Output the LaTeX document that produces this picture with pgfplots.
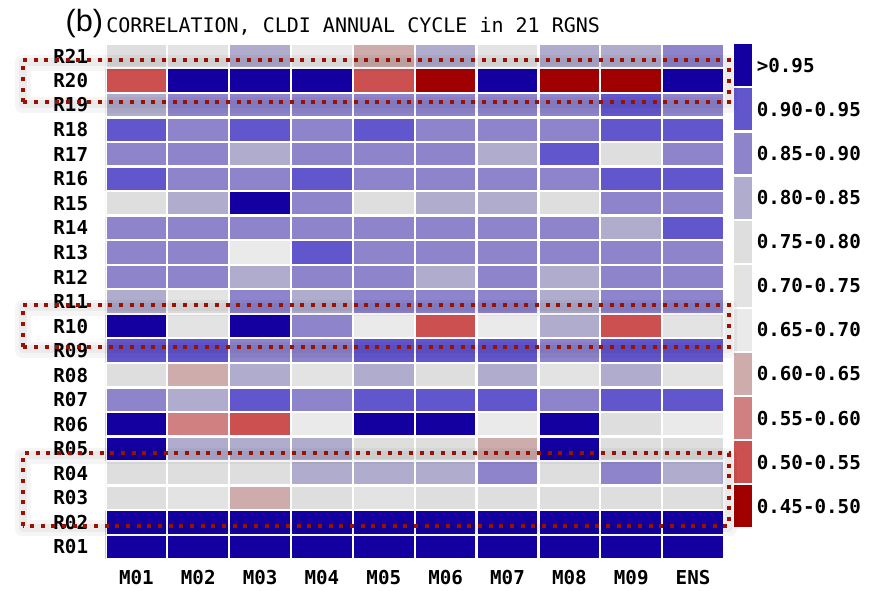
\documentclass[border=0pt]{standalone}
\usepackage{fontspec}
\usepackage{pgfplots}
\pgfplotsset{compat=1.18}
\setmainfont{Liberation Sans}
\setmonofont{DejaVu Sans Mono}
\newcommand{\labfont}{\ttfamily\bfseries\fontsize{14.4}{16}\selectfont}

% bins, lowest first
\definecolor{cb1}{RGB}{160,0,0}
\definecolor{cb2}{RGB}{204,80,80}
\definecolor{cb3}{RGB}{208,128,128}
\definecolor{cb4}{RGB}{206,172,172}
\definecolor{cb5}{RGB}{234,234,234}
\definecolor{cb6}{RGB}{227,227,227}
\definecolor{cb7}{RGB}{222,222,222}
\definecolor{cb8}{RGB}{176,172,206}
\definecolor{cb9}{RGB}{142,132,204}
\definecolor{cb10}{RGB}{98,86,204}
\definecolor{cb11}{RGB}{20,0,160}
\definecolor{boxred}{RGB}{155,16,0}

\begin{document}
\begin{tikzpicture}
\useasboundingbox (0,0) rectangle (660pt,442.5pt);

\begin{axis}[
  at={(79.1pt,23.1pt)}, anchor=south west,
  scale only axis, width=463.9pt, height=386.6pt,
  xmin=-0.5, xmax=9.5, ymin=0.5, ymax=21.5,
  axis line style={draw=none}, major tick length=0pt,
  xtick={0,...,9},
  xticklabels={M01,M02,M03,M04,M05,M06,M07,M08,M09,ENS},
  ytick={1,...,21},
  yticklabels={R01,R02,R03,R04,R05,R06,R07,R08,R09,R10,R11,R12,R13,R14,R15,R16,R17,R18,R19,R20,R21},
  ticklabel style={font=\labfont},
  yticklabel style={anchor=east, xshift=-9.5pt},
  xticklabel style={yshift=-5pt},
  colormap={corr}{color=(cb1) color=(cb2) color=(cb3) color=(cb4) color=(cb5) color=(cb6)
    color=(cb7) color=(cb8) color=(cb9) color=(cb10) color=(cb11)},
  colormap access=piecewise constant,
  point meta min=0.45, point meta max=1.0,
]
\addplot[matrix plot*, mesh/cols=10, mesh/ordering=x varies, point meta=explicit,
  draw=white, line width=1.7pt] coordinates {
(0,1)[0.97] (1,1)[0.97] (2,1)[0.97] (3,1)[0.97] (4,1)[0.97] (5,1)[0.97] (6,1)[0.97] (7,1)[0.97] (8,1)[0.97] (9,1)[0.97]
(0,2)[0.97] (1,2)[0.97] (2,2)[0.97] (3,2)[0.97] (4,2)[0.97] (5,2)[0.97] (6,2)[0.97] (7,2)[0.97] (8,2)[0.97] (9,2)[0.97]
(0,3)[0.78] (1,3)[0.73] (2,3)[0.62] (3,3)[0.78] (4,3)[0.73] (5,3)[0.78] (6,3)[0.78] (7,3)[0.78] (8,3)[0.78] (9,3)[0.78]
(0,4)[0.78] (1,4)[0.78] (2,4)[0.78] (3,4)[0.83] (4,4)[0.83] (5,4)[0.83] (6,4)[0.87] (7,4)[0.78] (8,4)[0.87] (9,4)[0.83]
(0,5)[0.97] (1,5)[0.83] (2,5)[0.83] (3,5)[0.83] (4,5)[0.78] (5,5)[0.78] (6,5)[0.62] (7,5)[0.97] (8,5)[0.78] (9,5)[0.78]
(0,6)[0.97] (1,6)[0.58] (2,6)[0.52] (3,6)[0.68] (4,6)[0.97] (5,6)[0.97] (6,6)[0.68] (7,6)[0.97] (8,6)[0.78] (9,6)[0.68]
(0,7)[0.87] (1,7)[0.83] (2,7)[0.93] (3,7)[0.87] (4,7)[0.93] (5,7)[0.93] (6,7)[0.93] (7,7)[0.87] (8,7)[0.93] (9,7)[0.93]
(0,8)[0.78] (1,8)[0.62] (2,8)[0.83] (3,8)[0.73] (4,8)[0.83] (5,8)[0.78] (6,8)[0.83] (7,8)[0.73] (8,8)[0.83] (9,8)[0.73]
(0,9)[0.93] (1,9)[0.93] (2,9)[0.87] (3,9)[0.87] (4,9)[0.93] (5,9)[0.93] (6,9)[0.93] (7,9)[0.87] (8,9)[0.93] (9,9)[0.93]
(0,10)[0.97] (1,10)[0.73] (2,10)[0.97] (3,10)[0.87] (4,10)[0.68] (5,10)[0.52] (6,10)[0.68] (7,10)[0.83] (8,10)[0.52] (9,10)[0.73]
(0,11)[0.83] (1,11)[0.73] (2,11)[0.87] (3,11)[0.83] (4,11)[0.87] (5,11)[0.87] (6,11)[0.87] (7,11)[0.83] (8,11)[0.87] (9,11)[0.87]
(0,12)[0.87] (1,12)[0.87] (2,12)[0.83] (3,12)[0.87] (4,12)[0.87] (5,12)[0.83] (6,12)[0.87] (7,12)[0.83] (8,12)[0.87] (9,12)[0.87]
(0,13)[0.87] (1,13)[0.87] (2,13)[0.68] (3,13)[0.93] (4,13)[0.87] (5,13)[0.87] (6,13)[0.87] (7,13)[0.87] (8,13)[0.87] (9,13)[0.87]
(0,14)[0.87] (1,14)[0.87] (2,14)[0.87] (3,14)[0.87] (4,14)[0.87] (5,14)[0.87] (6,14)[0.87] (7,14)[0.87] (8,14)[0.83] (9,14)[0.93]
(0,15)[0.78] (1,15)[0.83] (2,15)[0.97] (3,15)[0.87] (4,15)[0.78] (5,15)[0.83] (6,15)[0.83] (7,15)[0.78] (8,15)[0.87] (9,15)[0.87]
(0,16)[0.93] (1,16)[0.87] (2,16)[0.87] (3,16)[0.93] (4,16)[0.87] (5,16)[0.87] (6,16)[0.87] (7,16)[0.87] (8,16)[0.93] (9,16)[0.93]
(0,17)[0.87] (1,17)[0.87] (2,17)[0.83] (3,17)[0.87] (4,17)[0.87] (5,17)[0.87] (6,17)[0.83] (7,17)[0.93] (8,17)[0.78] (9,17)[0.87]
(0,18)[0.93] (1,18)[0.87] (2,18)[0.93] (3,18)[0.87] (4,18)[0.93] (5,18)[0.87] (6,18)[0.87] (7,18)[0.87] (8,18)[0.93] (9,18)[0.93]
(0,19)[0.83] (1,19)[0.87] (2,19)[0.87] (3,19)[0.87] (4,19)[0.87] (5,19)[0.87] (6,19)[0.87] (7,19)[0.87] (8,19)[0.93] (9,19)[0.87]
(0,20)[0.52] (1,20)[0.97] (2,20)[0.97] (3,20)[0.97] (4,20)[0.52] (5,20)[0.48] (6,20)[0.97] (7,20)[0.48] (8,20)[0.48] (9,20)[0.97]
(0,21)[0.78] (1,21)[0.73] (2,21)[0.83] (3,21)[0.68] (4,21)[0.62] (5,21)[0.83] (6,21)[0.73] (7,21)[0.83] (8,21)[0.83] (9,21)[0.87]
};
\end{axis}

% colour key
\begin{axis}[
  at={(550.5pt,46.3pt)}, anchor=south west,
  scale only axis, width=13.5pt, height=363.75pt,
  xmin=0, xmax=1, ymin=0.5, ymax=11.5,
  axis line style={draw=none}, major tick length=0pt,
  xtick=\empty, ytick={1,...,11},
  yticklabel pos=right,
  yticklabels={0.45-0.50,0.50-0.55,0.55-0.60,0.60-0.65,0.65-0.70,0.70-0.75,0.75-0.80,0.80-0.85,0.85-0.90,0.90-0.95,>0.95},
  yticklabel style={font=\labfont, anchor=west, inner xsep=0pt, xshift=3.4pt},
]
\pgfplotsinvokeforeach{1,...,11}{
  \addplot[xbar, bar width=0.95, bar shift=0pt, fill=cb#1, draw=none] coordinates {(1,#1)};
}
\end{axis}

% title
\node[anchor=base west, inner sep=0pt] at (49pt,419pt) {\fontsize{23}{26}\selectfont (b)};
\node[anchor=base west, inner sep=0pt] at (79.5pt,418pt) {\ttfamily\fontsize{15}{17}\selectfont CORRELATION, CLDI ANNUAL CYCLE in 21 RGNS};

% highlight boxes with soft shadow
\foreach \yb/\yt in {365.7/397.5, 182/213.8, 48.2/102.5}{
  \draw[black, opacity=0.04, line width=12pt, line join=round] (17pt,\yb pt-2pt) rectangle (547pt,\yt pt-2pt);
  \draw[black, opacity=0.04, line width=6pt, line join=round] (17pt,\yb pt-1.5pt) rectangle (547pt,\yt pt-1.5pt);
  \draw[boxred, line width=3pt, dash pattern=on 3pt off 5pt] (17pt,\yb pt) rectangle (547pt,\yt pt);
}
\end{tikzpicture}
\end{document}
